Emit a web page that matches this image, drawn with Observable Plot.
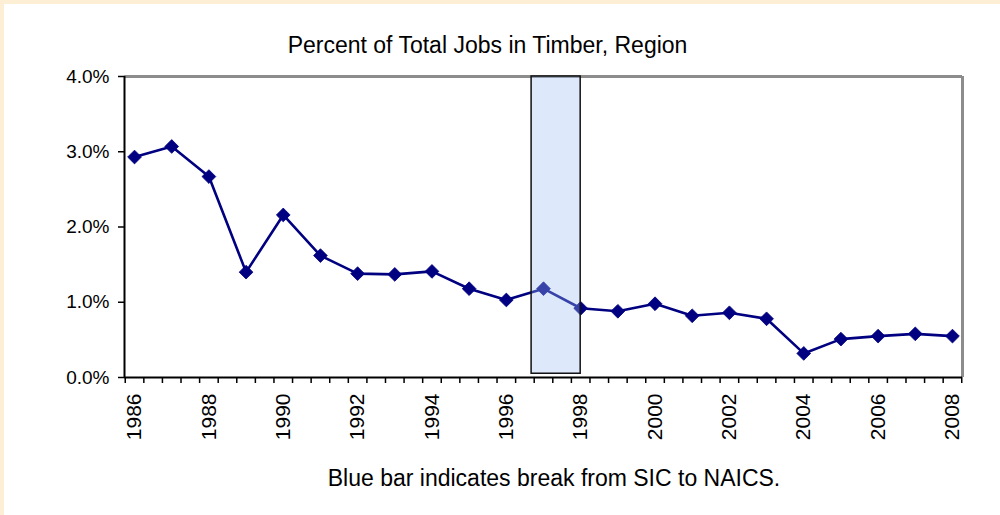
<!DOCTYPE html>
<html>
<head>
<meta charset="utf-8">
<script src="https://cdn.jsdelivr.net/npm/d3@7"></script>
<script src="https://cdn.jsdelivr.net/npm/@observablehq/plot@0.6"></script>
<style>
  html, body { margin: 0; padding: 0; background: #ffffff; }
  #wrap { position: relative; width: 1000px; height: 515px; background: #ffffff; overflow: hidden; font-family: "Liberation Sans", Arial, sans-serif; }
  #creamTop { position: absolute; left: 0; top: 0; width: 1000px; height: 4px; background: #fcefd6; }
  #creamLeft { position: absolute; left: 0; top: 0; width: 4px; height: 515px; background: #fcefd6; }
  #title { position: absolute; top: 32px; left: 0; width: 975px; text-align: center; font-size: 23px; color: #000; white-space: nowrap; }
  #caption { position: absolute; top: 465px; left: 0; width: 1108px; text-align: center; font-size: 23px; color: #000; white-space: nowrap; }
  #chart { position: absolute; left: 0; top: 0; }
  svg text { font-family: "Liberation Sans", Arial, sans-serif; }
</style>
</head>
<body>
<div id="wrap">
  <div id="creamTop"></div>
  <div id="creamLeft"></div>
  <div id="chart"></div>
  <div id="title">Percent of Total Jobs in Timber, Region</div>
  <div id="caption">Blue bar indicates break from SIC to NAICS.</div>
</div>
<script>
// ---- data ----
const years = [1986, 1987, 1988, 1989, 1990, 1991, 1992, 1993, 1994, 1995, 1996, 1997,
               1998, 1999, 2000, 2001, 2002, 2003, 2004, 2005, 2006, 2007, 2008];
const pctTimber = [2.93, 3.07, 2.67, 1.40, 2.16, 1.62, 1.38, 1.37, 1.41, 1.18, 1.03, 1.18,
                   0.92, 0.88, 0.98, 0.82, 0.86, 0.78, 0.32, 0.51, 0.55, 0.58, 0.55];
const yTicks = [0, 1, 2, 3, 4];
const yearLabels = [1986, 1988, 1990, 1992, 1994, 1996, 1998, 2000, 2002, 2004, 2006, 2008];
const breakStart = 1996.68;
const breakEnd = 1998.0;

const data = years.map((y, i) => ({year: y, pct: pctTimber[i]}));
const xMin = years[0] - 0.27, xMax = years[years.length - 1] + 0.27;
const minorTicks = d3.range(years[0] - 0.25, years[years.length - 1] + 0.5, 0.5);

const navy = "#000080";

const chart = Plot.plot({
  width: 1000,
  height: 515,
  marginLeft: 124,
  marginRight: 38,
  marginTop: 76,
  marginBottom: 138,
  style: {background: "transparent", fontFamily: "Liberation Sans, Arial, sans-serif"},
  x: {type: "linear", domain: [xMin, xMax]},
  y: {domain: [0, 4]},
  marks: [
    // y axis
    Plot.axisY({ticks: yTicks, tickFormat: d => d.toFixed(1) + "%", tickSize: 6, tickPadding: 9,
                fontSize: 19, label: null, stroke: "#000", strokeWidth: 1.5, color: "#000"}),
    // minor x ticks (between years)
    Plot.axisX({ticks: minorTicks, tickFormat: () => "", tickSize: 6, label: null,
                stroke: "#000", strokeWidth: 1.5}),
    // year labels
    Plot.axisX({ticks: yearLabels, tickFormat: d => String(d), tickSize: 0, tickPadding: 16,
                tickRotate: -90, fontSize: 21, label: null, color: "#000"}),
    // frame: top and right grey, left and bottom black
    Plot.ruleY([4], {stroke: "#8c8c8c", strokeWidth: 3}),
    Plot.ruleX([xMax], {stroke: "#8c8c8c", strokeWidth: 3}),
    Plot.ruleX([xMin], {stroke: "#000", strokeWidth: 2}),
    Plot.ruleY([0], {stroke: "#000", strokeWidth: 2}),
    // line + markers
    Plot.line(data, {x: "year", y: "pct", stroke: navy, strokeWidth: 2.6}),
    Plot.dot(data, {x: "year", y: "pct", symbol: "diamond2", r: 6.2, fill: navy, stroke: navy, strokeWidth: 0.8}),
    // break bar drawn over the series
    Plot.rect([{x1: breakStart, x2: breakEnd}], {x1: "x1", x2: "x2", y1: 0.05, y2: 4,
               fill: "#9ec0f4", fillOpacity: 0.35, stroke: "#111", strokeWidth: 1.5})
  ]
});
document.getElementById("chart").appendChild(chart);
</script>
</body>
</html>
